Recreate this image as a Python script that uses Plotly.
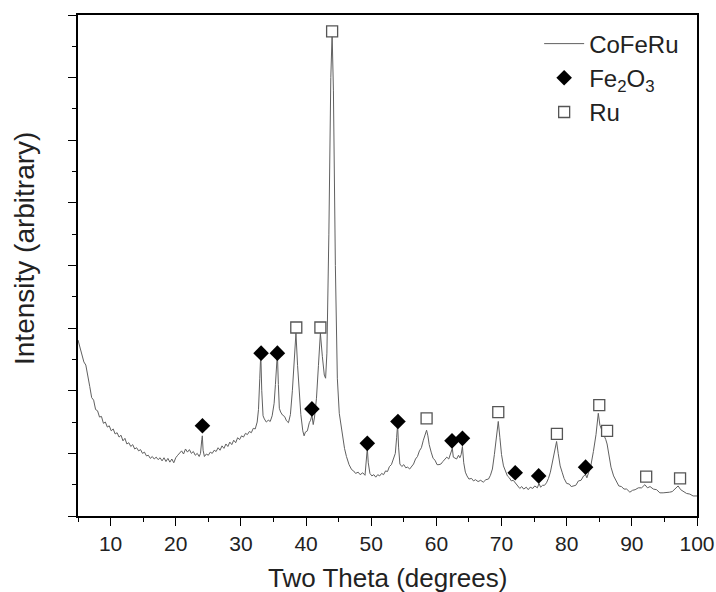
import plotly.graph_objects as go

# XRD pattern (two theta in degrees, arbitrary intensity)
two_theta = [
    5.0, 5.3, 5.6, 5.9, 6.2, 6.5, 6.8, 7.1, 7.4, 7.7, 8.0, 8.3, 8.6, 8.9, 9.2, 9.5, 9.8,
    10.1, 10.4, 10.7, 11.0, 11.3, 11.6, 11.9, 12.2, 12.5, 12.8, 13.1, 13.4, 13.7, 14.0,
    14.3, 14.6, 14.9, 15.2, 15.5, 15.8, 16.1, 16.4, 16.7, 17.0, 17.3, 17.6, 17.9, 18.2,
    18.5, 18.8, 19.1, 19.4, 19.7, 20.0, 20.3, 20.6, 20.9, 21.2, 21.5, 21.8, 22.1, 22.4,
    22.7, 23.0, 23.3, 23.6, 23.8, 24.0, 24.08, 24.2, 24.4, 24.7, 25.0, 25.3, 25.6, 25.9,
    26.2, 26.5, 26.8, 27.1, 27.4, 27.7, 28.0, 28.3, 28.6, 28.9, 29.2, 29.5, 29.8, 30.1,
    30.4, 30.7, 31.0, 31.3, 31.6, 31.9, 32.2, 32.5, 32.7, 32.9, 33.05, 33.2, 33.4, 33.6,
    33.9, 34.2, 34.5, 34.8, 35.1, 35.3, 35.5, 35.6, 35.75, 35.9, 36.1, 36.4, 36.7, 37.0,
    37.3, 37.6, 37.9, 38.2, 38.45, 38.7, 38.95, 39.2, 39.5, 39.7, 39.9, 40.2, 40.5, 40.7,
    40.9, 41.1, 41.3, 41.6, 41.9, 42.2, 42.5, 42.8, 43.0, 43.2, 43.5, 43.8, 44.0, 44.2,
    44.5, 44.8, 45.1, 45.5, 45.9, 46.2, 46.6, 47.0, 47.3, 47.6, 48.0, 48.3, 48.7, 49.05,
    49.25, 49.4, 49.55, 49.8, 50.1, 50.4, 50.7, 51.0, 51.3, 51.6, 51.9, 52.2, 52.5, 52.8,
    53.1, 53.4, 53.7, 53.9, 54.05, 54.2, 54.4, 54.7, 55.0, 55.3, 55.6, 55.9, 56.2, 56.5,
    56.8, 57.1, 57.4, 57.7, 58.0, 58.3, 58.5, 58.7, 58.9, 59.2, 59.5, 59.8, 60.1, 60.4,
    60.7, 61.0, 61.3, 61.6, 61.9, 62.1, 62.3, 62.45, 62.6, 62.8, 63.1, 63.4, 63.6, 63.8,
    64.0, 64.2, 64.45, 64.7, 65.0, 65.4, 65.7, 66.0, 66.4, 66.8, 67.2, 67.6, 68.0, 68.3,
    68.6, 68.9, 69.2, 69.5, 69.75, 70.0, 70.3, 70.6, 70.9, 71.2, 71.5, 71.8, 72.1, 72.4,
    72.8, 73.1, 73.4, 73.8, 74.1, 74.4, 74.8, 75.1, 75.5, 75.75, 76.0, 76.3, 76.6, 76.9,
    77.2, 77.5, 77.8, 78.1, 78.45, 78.7, 79.0, 79.3, 79.6, 80.0, 80.4, 80.7, 81.0, 81.4,
    81.8, 82.2, 82.6, 82.9, 83.1, 83.4, 83.7, 84.1, 84.5, 84.85, 85.1, 85.4, 85.7, 86.0,
    86.2, 86.5, 86.8, 87.2, 87.6, 88.0, 88.4, 88.8, 89.2, 89.7, 90.1, 90.5, 91.0, 91.5,
    92.0, 92.4, 92.8, 93.3, 93.8, 94.3, 94.8, 95.3, 95.8, 96.2, 96.7, 97.1, 97.5, 97.9,
    98.4, 98.9, 99.4, 100.0,
]
intensity = [
    2.81, 2.68, 2.60, 2.46, 2.41, 2.20, 2.07, 1.89, 1.85, 1.70, 1.68, 1.58, 1.59, 1.48, 1.50, 1.42, 1.44,
    1.36, 1.39, 1.31, 1.33, 1.26, 1.29, 1.20, 1.24, 1.15, 1.17, 1.11, 1.14, 1.07, 1.09,
    1.04, 1.06, 1.00, 1.02, 0.96, 0.97, 0.92, 0.95, 0.91, 0.94, 0.90, 0.93, 0.88, 0.93,
    0.87, 0.92, 0.86, 0.91, 0.85, 0.93, 0.97, 1.01, 1.04, 0.99, 1.07, 1.02, 1.06, 1.00,
    1.03, 0.97, 1.00, 0.95, 1.00, 1.22, 1.28, 1.05, 0.95, 0.99, 0.97, 1.02, 1.00, 1.05,
    1.03, 1.09, 1.05, 1.12, 1.08, 1.15, 1.11, 1.18, 1.14, 1.21, 1.17, 1.25, 1.22, 1.28,
    1.26, 1.32, 1.30, 1.35, 1.33, 1.40, 1.39, 1.50, 1.70, 2.20, 2.60, 2.00, 1.60, 1.55,
    1.50, 1.53, 1.51, 1.60, 1.80, 2.10, 2.55, 2.60, 2.10, 1.72, 1.66, 1.61, 1.59, 1.52,
    1.49, 1.62, 2.00, 2.55, 2.92, 2.40, 1.90, 1.62, 1.36, 1.28, 1.34, 1.36, 1.49, 1.53,
    1.61, 1.46, 1.58, 1.88, 2.40, 2.92, 2.55, 2.25, 2.20, 2.60, 4.50, 7.00, 7.70, 6.80,
    4.00, 2.20, 1.64, 1.32, 1.08, 0.95, 0.82, 0.74, 0.72, 0.68, 0.70, 0.66, 0.69, 0.65,
    0.85, 1.08, 0.85, 0.68, 0.64, 0.66, 0.62, 0.66, 0.64, 0.68, 0.66, 0.72, 0.71, 0.79,
    0.82, 0.90, 1.00, 1.25, 1.46, 1.10, 0.83, 0.79, 0.82, 0.77, 0.78, 0.75, 0.80, 0.83,
    0.91, 0.95, 1.04, 1.09, 1.21, 1.31, 1.37, 1.28, 1.14, 1.02, 0.92, 0.89, 0.82, 0.82,
    0.83, 0.87, 0.90, 0.94, 0.91, 0.97, 1.02, 1.08, 0.94, 0.93, 0.91, 0.97, 0.93, 0.98,
    1.11, 0.85, 0.70, 0.64, 0.59, 0.60, 0.56, 0.58, 0.55, 0.57, 0.54, 0.58, 0.59, 0.65,
    0.75, 0.98, 1.30, 1.51, 1.25, 0.98, 0.80, 0.70, 0.64, 0.61, 0.56, 0.57, 0.53, 0.50,
    0.44, 0.47, 0.43, 0.46, 0.42, 0.46, 0.44, 0.48, 0.45, 0.52, 0.46, 0.49, 0.49, 0.53,
    0.60, 0.70, 0.84, 1.02, 1.19, 1.00, 0.80, 0.70, 0.60, 0.52, 0.51, 0.47, 0.48, 0.49,
    0.56, 0.57, 0.64, 0.66, 0.61, 0.69, 0.80, 1.03, 1.30, 1.64, 1.45, 1.37, 1.30, 1.22,
    1.15, 0.95, 0.78, 0.64, 0.55, 0.48, 0.47, 0.43, 0.43, 0.38, 0.41, 0.42, 0.45, 0.45,
    0.50, 0.45, 0.47, 0.43, 0.42, 0.37, 0.37, 0.37, 0.38, 0.39, 0.44, 0.48, 0.42, 0.39,
    0.36, 0.35, 0.32, 0.32,
]

# Phase markers
fe2o3_x = [24.1, 33.1, 35.6, 40.9, 49.4, 54.1, 62.4, 64.0, 72.1, 75.7, 82.9]
fe2o3_y = [1.44, 2.60, 2.60, 1.71, 1.16, 1.51, 1.20, 1.24, 0.69, 0.64, 0.78]
ru_x = [38.5, 42.2, 44.0, 58.5, 69.5, 78.5, 85.0, 86.2, 92.2, 97.4]
ru_y = [3.01, 3.01, 7.74, 1.56, 1.66, 1.31, 1.77, 1.36, 0.63, 0.60]

x_title = "Two Theta (degrees)"
y_title = "Intensity (arbitrary)"

font_family = "Liberation Sans, Arial, sans-serif"

fig = go.Figure()
fig.add_trace(go.Scatter(
    x=two_theta, y=intensity, mode="lines", name="CoFeRu",
    line=dict(color="#606060", width=1),
))
fig.add_trace(go.Scatter(
    x=fe2o3_x, y=fe2o3_y, mode="markers", name="Fe<sub>2</sub>O<sub>3</sub>",
    marker=dict(symbol="diamond", size=12, color="black", line=dict(width=0)),
))
fig.add_trace(go.Scatter(
    x=ru_x, y=ru_y, mode="markers", name="Ru",
    marker=dict(symbol="square", size=11, color="white", line=dict(color="#555555", width=1.3)),
))

fig.update_layout(
    width=716, height=592,
    margin=dict(l=78, r=19, t=15, b=76),
    paper_bgcolor="white", plot_bgcolor="white",
    font=dict(family=font_family, color="#222222", size=20),
    showlegend=True,
    legend=dict(
        x=0.745, y=0.987, xanchor="left", yanchor="top",
        bgcolor="rgba(0,0,0,0)", font=dict(size=24, color="#222222"),
        tracegroupgap=0, itemwidth=40,
    ),
    xaxis=dict(
        range=[5, 100], tick0=0, dtick=10, automargin=False,
        ticks="outside", ticklen=8, tickwidth=1.3, tickcolor="black",
        minor=dict(dtick=5, tick0=0, ticks="outside", ticklen=4, tickwidth=1.3, tickcolor="black"),
        showline=True, linecolor="black", linewidth=1.5, mirror=True,
        showgrid=False, zeroline=False,
        tickfont=dict(size=21, color="#222222"),
    ),
    yaxis=dict(
        range=[0, 8], tick0=0, dtick=1, automargin=False,
        ticks="outside", ticklen=8, tickwidth=1.3, tickcolor="black",
        minor=dict(dtick=0.5, tick0=0, ticks="outside", ticklen=4, tickwidth=1.3, tickcolor="black"),
        showticklabels=False,
        showline=True, linecolor="black", linewidth=1.5, mirror=True,
        showgrid=False, zeroline=False,
    ),
    annotations=[
        dict(text=x_title, xref="paper", yref="paper", x=0.5, y=-0.124,
             xanchor="center", yanchor="middle", showarrow=False,
             font=dict(size=26, color="#222222")),
        dict(text=y_title, xref="paper", yref="paper", x=-0.0856, y=0.533,
             xanchor="center", yanchor="middle", textangle=-90, showarrow=False,
             font=dict(size=28, color="#222222")),
    ],
)

fig.write_html("out.html")
